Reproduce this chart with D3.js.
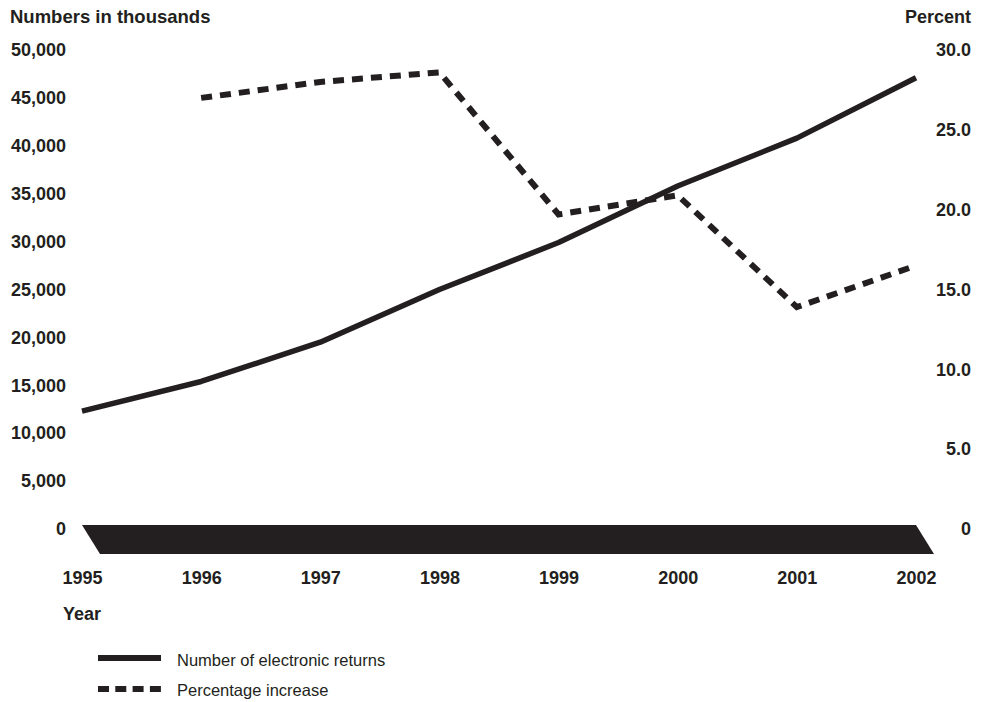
<!DOCTYPE html>
<html>
<head>
<meta charset="utf-8">
<script src="https://cdn.jsdelivr.net/npm/d3@7"></script>
<style>
  body { margin: 0; background: #fff; }
  text { font-family: "Liberation Sans", Arial, sans-serif; fill: #231f20; }
</style>
</head>
<body>
<svg width="990" height="702"></svg>
<script>
var years = [1995, 1996, 1997, 1998, 1999, 2000, 2001, 2002];
var returns = [12300, 15400, 19500, 25000, 29900, 35800, 40800, 47100];
var pctYears = [1996, 1997, 1998, 1999, 2000, 2001, 2002];
var pctIncrease = [27.0, 28.0, 28.6, 19.7, 20.9, 13.9, 16.5];
var leftTicks = [0, 5000, 10000, 15000, 20000, 25000, 30000, 35000, 40000, 45000, 50000];
var rightTicks = [0, 5, 10, 15, 20, 25, 30];

var svg = d3.select("svg");
var ink = "#231f20";

var x = d3.scaleLinear().domain([1995, 2002]).range([82, 916]);
var y = d3.scaleLinear().domain([0, 50000]).range([529, 50]);
var y2 = d3.scaleLinear().domain([0, 30]).range([529, 50]);

// axis titles
svg.append("text").attr("x", 10).attr("y", 23)
  .style("font-size", "18.5px").style("font-weight", "bold")
  .text("Numbers in thousands");
svg.append("text").attr("x", 971).attr("y", 23)
  .attr("text-anchor", "end")
  .style("font-size", "18px").style("font-weight", "bold")
  .text("Percent");

// left axis
var leftAxis = d3.axisLeft(y).tickValues(leftTicks).tickSize(0).tickPadding(0)
  .tickFormat(d3.format(","));
svg.append("g").attr("transform", "translate(66,0)").call(leftAxis)
  .call(function (g) { g.select(".domain").remove(); })
  .selectAll("text")
  .attr("fill", ink)
  .style("font-family", "'Liberation Sans', Arial, sans-serif")
  .style("font-size", "18px").style("font-weight", "bold");

// right axis
var rightAxis = d3.axisLeft(y2).tickValues(rightTicks).tickSize(0).tickPadding(0)
  .tickFormat(function (d) { return d === 0 ? "0" : d3.format(".1f")(d); });
svg.append("g").attr("transform", "translate(971,0)").call(rightAxis)
  .call(function (g) { g.select(".domain").remove(); })
  .selectAll("text")
  .attr("fill", ink)
  .style("font-family", "'Liberation Sans', Arial, sans-serif")
  .style("font-size", "18px").style("font-weight", "bold");

// floor band
var floorTop = 525, floorBot = 554, skew = 18;
svg.append("path")
  .attr("d", "M" + x(1995) + "," + floorTop + "L" + x(2002) + "," + floorTop +
    "L" + (x(2002) + skew) + "," + floorBot + "L" + (x(1995) + skew) + "," + floorBot + "Z")
  .attr("fill", ink);

// x axis
var xAxis = d3.axisBottom(x).tickValues(years).tickSize(0).tickPadding(0)
  .tickFormat(d3.format("d"));
svg.append("g").attr("transform", "translate(0,571)").call(xAxis)
  .call(function (g) { g.select(".domain").remove(); })
  .selectAll("text")
  .attr("fill", ink)
  .style("font-family", "'Liberation Sans', Arial, sans-serif")
  .style("font-size", "18px").style("font-weight", "bold");

svg.append("text").attr("x", 63).attr("y", 620)
  .style("font-size", "18px").style("font-weight", "bold")
  .text("Year");

// lines
var solidLine = d3.line()
  .x(function (d, i) { return x(years[i]); })
  .y(function (d) { return y(d); });
svg.append("path").datum(returns)
  .attr("d", solidLine)
  .attr("fill", "none").attr("stroke", ink).attr("stroke-width", 5.5)
  .attr("stroke-linejoin", "round");

var dashLine = d3.line()
  .x(function (d, i) { return x(pctYears[i]); })
  .y(function (d) { return y2(d); });
svg.append("path").datum(pctIncrease)
  .attr("d", dashLine)
  .attr("fill", "none").attr("stroke", ink).attr("stroke-width", 6)
  .attr("stroke-dasharray", "11,8");

// legend
var legend = svg.append("g");
legend.append("line").attr("x1", 98).attr("x2", 161).attr("y1", 658).attr("y2", 658)
  .attr("stroke", ink).attr("stroke-width", 6);
legend.append("text").attr("x", 177).attr("y", 666)
  .style("font-size", "16.5px").text("Number of electronic returns");
legend.append("line").attr("x1", 98).attr("x2", 161).attr("y1", 689).attr("y2", 689)
  .attr("stroke", ink).attr("stroke-width", 6).attr("stroke-dasharray", "11,6.3");
legend.append("text").attr("x", 177).attr("y", 696)
  .style("font-size", "16.5px").text("Percentage increase");
</script>
</body>
</html>
